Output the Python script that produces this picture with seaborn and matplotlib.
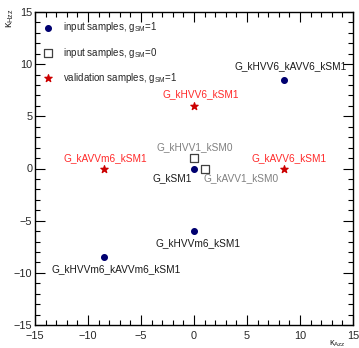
import matplotlib
matplotlib.use("Agg")
import matplotlib.pyplot as plt
import seaborn as sns
import pandas as pd
from matplotlib.ticker import MultipleLocator

sns.set_style("ticks")
plt.rcParams["font.family"] = ["Liberation Sans", "DejaVu Sans"]
plt.rcParams["mathtext.fontset"] = "custom"
plt.rcParams["mathtext.rm"] = "Liberation Sans"
plt.rcParams["mathtext.it"] = "Liberation Sans:italic"

# Input samples generated with g_SM = 1
g1_names = ["G_kSM1", "G_kHVV6_kAVV6_kSM1", "G_kHVVm6_kSM1", "G_kHVVm6_kAVVm6_kSM1"]
g1_kazz = [0.0, 8.5, 0.0, -8.5]
g1_khzz = [0.0, 8.5, -6.0, -8.5]

# Input samples generated with g_SM = 0
g0_names = ["G_kHVV1_kSM0", "G_kAVV1_kSM0"]
g0_kazz = [0.0, 1.0]
g0_khzz = [1.0, 0.0]

# Validation samples with g_SM = 1
val_names = ["G_kHVV6_kSM1", "G_kAVVm6_kSM1", "G_kAVV6_kSM1"]
val_kazz = [0.0, -8.5, 8.5]
val_khzz = [6.0, 0.0, 0.0]

groups = ["input samples, g$_{\\rm SM}$=1",
          "input samples, g$_{\\rm SM}$=0",
          "validation samples, g$_{\\rm SM}$=1"]

df = pd.concat([
    pd.DataFrame({"name": g1_names, "kazz": g1_kazz, "khzz": g1_khzz, "group": groups[0]}),
    pd.DataFrame({"name": g0_names, "kazz": g0_kazz, "khzz": g0_khzz, "group": groups[1]}),
    pd.DataFrame({"name": val_names, "kazz": val_kazz, "khzz": val_khzz, "group": groups[2]}),
], ignore_index=True)

# label placement relative to each point (data units) and label colour
label_offset = {
    "G_kSM1": (-2.1, -0.96),
    "G_kHVV6_kAVV6_kSM1": (0.63, 1.3),
    "G_kHVVm6_kSM1": (0.4, -1.13),
    "G_kHVVm6_kAVVm6_kSM1": (1.2, -1.13),
    "G_kHVV1_kSM0": (0.05, 1.04),
    "G_kAVV1_kSM0": (3.4, -0.96),
    "G_kHVV6_kSM1": (0.6, 1.15),
    "G_kAVVm6_kSM1": (0.1, 0.96),
    "G_kAVV6_kSM1": (0.45, 0.96),
}
group_text_color = {groups[0]: "#1a1a1a", groups[1]: "#808080", groups[2]: "#ff2a2a"}

fig = plt.figure(figsize=(3.59, 3.48), dpi=100)
ax = fig.add_axes([35 / 359, 1 - 325 / 348, 318 / 359, 313 / 348])

palette = {groups[0]: "#000070", groups[1]: "white", groups[2]: "#cc0000"}
markers = {groups[0]: "o", groups[1]: "s", groups[2]: "*"}
sizes = {groups[0]: 17, groups[1]: 26, groups[2]: 30}
edges = {groups[0]: "#000070", groups[1]: "#404040", groups[2]: "#cc0000"}

for g in groups:
    sub = df[df["group"] == g]
    sns.scatterplot(data=sub, x="kazz", y="khzz", ax=ax, color=palette[g],
                    marker=markers[g], s=sizes[g], edgecolor=edges[g],
                    linewidth=0.9, label=g, zorder=3)

for _, r in df.iterrows():
    dx, dy = label_offset[r["name"]]
    ax.text(r["kazz"] + dx, r["khzz"] + dy, r["name"], ha="center", va="center",
            fontsize=7.3, color=group_text_color[r["group"]])

ax.set_xlim(-15, 15)
ax.set_ylim(-15, 15)
ax.xaxis.set_major_locator(MultipleLocator(5))
ax.yaxis.set_major_locator(MultipleLocator(5))
ax.xaxis.set_minor_locator(MultipleLocator(1))
ax.yaxis.set_minor_locator(MultipleLocator(1))
ax.tick_params(which="both", direction="in", top=True, right=True,
               labelsize=7.8, width=0.8, color="black")
ax.tick_params(axis="x", which="both", pad=4)
ax.tick_params(axis="y", which="both", pad=2)
ax.tick_params(which="major", length=7)
ax.tick_params(which="minor", length=3.5)
for s in ax.spines.values():
    s.set_linewidth(1.0)
    s.set_color("black")

ax.set_xlabel("")
ax.set_ylabel("")
fig.text(337 / 359, 1 - 344 / 348, "κ$_{\\rm Azz}$", ha="center", va="center", fontsize=6.5)
fig.text(10 / 359, 1 - 18 / 348, "κ$_{\\rm Hzz}$", ha="center", va="center",
         fontsize=7.5, rotation=90)

leg = ax.legend(loc="upper left", bbox_to_anchor=(0.0, 0.992), frameon=False,
                fontsize=7, labelspacing=1.15, handletextpad=0.75,
                borderaxespad=0.2, handlelength=1.5, markerscale=1.0)

fig.savefig("out.png", dpi=100)
